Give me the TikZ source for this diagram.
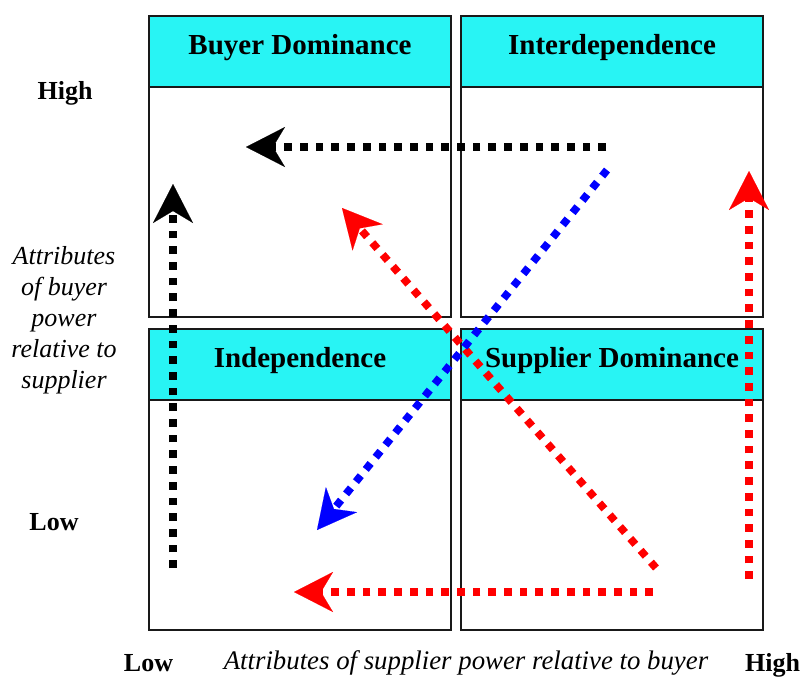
\documentclass[tikz,border=0pt]{standalone}
\usepackage{fontspec}
\setmainfont{Liberation Serif}
\usetikzlibrary{arrows.meta}
\definecolor{headcyan}{RGB}{40,244,244}
\definecolor{flowred}{RGB}{255,0,0}
\definecolor{flowblue}{RGB}{0,0,255}
\begin{document}
\begin{tikzpicture}[x=1pt,y=-1pt,
  quad/.style={draw=black!90, line width=2pt, minimum width=302pt, minimum height=301pt, inner sep=0pt},
  head/.style={draw=black!90, line width=2pt, fill=headcyan, minimum width=302pt, minimum height=71pt,
    inner sep=0pt, text height=20pt, text depth=13pt, font=\fontsize{29}{33}\selectfont\bfseries},
  axislbl/.style={font=\fontsize{26}{31}\selectfont\bfseries, inner sep=0pt, anchor=base},
  axistitle/.style={font=\fontsize{26}{31}\selectfont\itshape, inner sep=0pt, align=center},
  flow/.style={line width=7.7pt, dash pattern=on 7.7pt off 8pt,
    -{Stealth[length=39pt, width=40pt, inset=12pt, line width=0.1pt]}}]
\useasboundingbox (0,0) rectangle (802,677);

% quadrants
\node[quad] (q1) at (300,166.5) {};
\node[quad] (q2) at (612,166.5) {};
\node[quad] (q3) at (300,479) {};
\node[quad] (q4) at (612,479) {};

% quadrant headers
\node[head] (h1) at (300,51.5) {Buyer Dominance};
\node[head] (h2) at (612,51.5) {Interdependence};
\node[head] (h3) at (300,364) {Independence};
\node[head] (h4) at (612,364) {Supplier Dominance};

% axis labels
\node[axislbl] (yhigh) at (65,99) {High};
\node[axislbl] (ylow) at (54,530) {Low};
\node[axislbl] (xlow) at (148.5,671) {Low};
\node[axislbl] (xhigh) at (772.5,671) {High};
\node[axistitle] (ytitle) at (64,320) {Attributes\\of buyer\\power\\relative to\\supplier};
\node[axistitle, anchor=base, font=\fontsize{26.8}{31}\selectfont\itshape] (xtitle) at (466,669) {Attributes of supplier power relative to buyer};

% arrow end points
\coordinate (bhS) at (606,147);  \coordinate (bhE) at (246,147);
\coordinate (bvS) at (173,568);  \coordinate (bvE) at (173,184);
\coordinate (rvS) at (749,579);  \coordinate (rvE) at (749,171);
\coordinate (rdS) at (656,568);  \coordinate (rdE) at (342,208);
\coordinate (rhS) at (653,592);  \coordinate (rhE) at (294,592);
\coordinate (bdS) at (607,170);  \coordinate (bdE) at (317,530);

% movements between positions
\draw[flow, black] (bhS) -- (bhE);
\draw[flow, black] (bvS) -- (bvE);
\draw[flow, flowred] (rvS) -- (rvE);
\draw[flow, flowred] (rdS) -- (rdE);
\draw[flow, flowred] (rhS) -- (rhE);
\draw[flow, flowblue] (bdS) -- (bdE);
\end{tikzpicture}
\end{document}
